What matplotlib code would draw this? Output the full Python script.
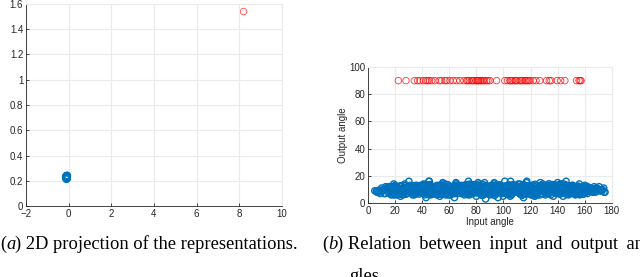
import matplotlib
matplotlib.use("Agg")
import matplotlib.pyplot as plt

# ---- data: panel (a) ----
a_blue_x = [-0.10, -0.09, -0.11, -0.10, -0.08, -0.12, -0.10, -0.09]
a_blue_y = [0.215, 0.222, 0.228, 0.234, 0.240, 0.231, 0.219, 0.237]
a_red_x = [8.2]
a_red_y = [1.54]
a_xticks = [-2, 0, 2, 4, 6, 8, 10]
a_yticks = [0, 0.2, 0.4, 0.6, 0.8, 1, 1.2, 1.4, 1.6]
a_yticklabels = ["0", "0.2", "0.4", "0.6", "0.8", "1", "1.2", "1.4", "1.6"]

# ---- data: panel (b) ----
b_red_x = [22.4, 28, 34.2, 36.6, 38.3, 40.8, 42.8, 44, 45.2, 47, 49.4, 52.6, 54.3,
           56.8, 58, 60.5, 62.9, 65.4, 67.8, 70.8, 72.8, 73.7, 74.7, 76.4, 77,
           78.1, 79.6, 80.5, 81.3, 82, 83, 84, 85, 86, 87.5, 88.6, 90, 94.9, 101,
           103, 104.7, 105.5, 106.6, 108.4, 109, 110.1, 112, 113, 114, 115.7,
           116.5, 117.4, 118.5, 119.4, 121.9, 124, 126.8, 131.8, 133.8, 135,
           139.6, 142.2, 145.3, 153.9, 155.8, 156.6, 157.3]
b_red_y = [90] * len(b_red_x)

b_blue_x = [
    5, 8, 10, 12, 14, 15, 17, 18, 20, 21, 23, 24, 26, 27, 29, 30, 32, 33, 35, 36,
    38, 39, 41, 42, 44, 45, 47, 48, 50, 51, 53, 54, 56, 57, 59, 60, 62, 63, 65, 66,
    68, 69, 71, 72, 74, 75, 77, 78, 80, 81, 83, 84, 86, 87, 89, 90, 92, 93, 95, 96,
    98, 99, 101, 102, 104, 105, 107, 108, 110, 111, 113, 114, 116, 117, 119, 120, 122, 123, 125, 126,
    128, 129, 131, 132, 134, 135, 137, 138, 140, 141, 143, 144, 146, 147, 149, 150, 152, 153, 155, 156,
    158, 159, 161, 162, 164, 165, 167, 168, 170, 172, 174, 175, 9, 13, 16, 19, 22, 25, 28, 31,
    34, 37, 40, 43, 46, 49, 52, 55, 58, 61, 64, 67, 70, 73, 76, 79, 82, 85, 88, 91,
    94, 97, 100, 103, 106, 109, 112, 115, 118, 121, 124, 127, 130, 133, 136, 139, 142, 145, 148, 151,
    154, 157, 160, 163, 166, 169, 171, 173, 11.5, 16.5, 19.5, 24.5, 28.5, 33.5, 37.5, 42.5, 46.5, 51.5, 55.5, 60.5,
    64.5, 69.5, 73.5, 78.5, 82.5, 87.5, 91.5, 96.5, 100.5, 105.5, 109.5, 114.5, 118.5, 123.5, 127.5, 132.5, 136.5, 141.5, 145.5, 150.5,
    154.5, 159.5, 163.5, 14.5, 18.5, 22.5, 26.5, 31.5, 35.5, 39.5, 44.5, 48.5, 53.5, 57.5, 62.5, 66.5, 71.5, 75.5, 80.5, 84.5,
    89.5, 93.5, 98.5, 102.5, 107.5, 111.5, 116.5, 120.5, 125.5, 129.5, 134.5, 138.5, 143.5, 147.5, 152.5, 156.5, 161.5, 20.5, 25.5, 30.5,
    34.5, 40.5, 45.5, 50.5, 54.5, 59.5, 65.5, 70.5, 74.5, 79.5, 85.5, 90.5, 94.5, 99.5, 104.5, 110.5, 115.5, 119.5, 124.5, 130.5,
    135.5, 140.5, 144.5, 149.5, 155.5, 160.5, 165.5, 17.5, 23.5, 29.5, 36.5, 41.5, 47.5, 52.5, 58.5, 63.5, 67.5, 72.5, 77.5, 83.5,
    86.5, 92.5, 97.5, 101.5, 106.5, 112.5, 117.5, 121.5, 126.5, 131.5, 137.5, 142.5, 146.5, 151.5, 157.5, 162.5, 27.2, 38.2, 49.2, 61.2,
    72.2, 84.2, 95.2, 103.2, 113.2, 122.2, 133.2, 144.2, 153.2, 21.8, 32.8, 43.8, 56.8, 67.8, 76.8, 88.8, 97.8, 108.8, 118.8, 128.8,
    139.8, 148.8, 158.8, 15.8, 26.8, 39.8, 48.8, 57.8, 68.8, 79.8, 90.8, 101.8, 110.8, 121.8, 131.8, 141.8, 150.8, 18.2, 45.2, 81.2,
    105.2, 127.2, 167.2, 170.6, 6.5, 174.2, 12.8, 42.8, 63.8, 86.8, 99.8, 114.8, 136.8, 156.2, 30.2, 55.2, 74.2, 93.2, 117.2, 146.2,
]
b_blue_y = [
    9, 8, 11, 7, 10, 12, 6, 9, 13, 8, 11, 5, 10, 14, 7, 12, 9, 6, 11, 13,
    8, 10, 14, 6, 12, 16, 9, 7, 11, 13, 5, 10, 8, 14, 12, 6, 9, 11, 15, 7,
    10, 13, 6, 12, 8, 14, 9, 11, 5, 13, 10, 7, 15, 8, 12, 6, 11, 14, 9, 4,
    12, 7, 16, 9, 11, 5, 13, 8, 10, 14, 6, 12, 9, 15, 7, 11, 13, 5, 10, 8,
    11, 14, 7, 10, 13, 6, 12, 9, 15, 8, 11, 5, 10, 13, 7, 12, 9, 6, 11, 14,
    8, 12, 10, 7, 11, 9, 12, 8, 10, 9, 11, 8, 7, 12, 10, 14, 6, 9, 13, 11,
    6, 10, 13, 8, 12, 11, 7, 14, 10, 6, 13, 9, 11, 7, 12, 10, 14, 6, 9, 12,
    7, 13, 10, 12, 6, 9, 14, 11, 8, 13, 10, 6, 12, 9, 11, 7, 14, 8, 10, 13,
    9, 7, 13, 10, 8, 11, 9, 10, 9, 8, 12, 10, 7, 9, 12, 8, 11, 10, 7, 9,
    11, 8, 10, 12, 7, 9, 13, 10, 8, 11, 12, 7, 9, 10, 13, 8, 11, 9, 12, 10,
    7, 10, 9, 11, 8, 10, 9, 12, 8, 10, 9, 11, 13, 8, 10, 12, 9, 11, 8, 10,
    12, 9, 8, 10, 11, 9, 8, 12, 10, 9, 11, 8, 12, 9, 10, 11, 9, 11, 9, 8,
    10, 12, 9, 8, 11, 10, 9, 12, 8, 10, 11, 9, 13, 8, 10, 9, 11, 12, 8, 10,
    9, 11, 10, 8, 12, 9, 10, 10, 8, 9, 11, 10, 8, 12, 9, 10, 11, 8, 9, 12,
    10, 8, 11, 9, 10, 12, 9, 8, 11, 10, 9, 12, 10, 8, 11, 9, 10, 9, 11, 8,
    9, 10, 12, 8, 11, 9, 10, 12, 9, 10, 8, 11, 9, 12, 10, 8, 11, 9, 10, 11,
    10, 9, 11, 10, 8, 12, 9, 11, 10, 8, 9, 12, 10, 11, 9, 10, 8, 10, 16, 15,
    16, 15, 10, 12, 8, 8, 7, 4, 4, 3, 5, 4, 5, 6, 16, 15, 16, 15, 16, 16,
]
b_blue_x2 = [
    15.2, 19.1, 23.7, 27.9, 31.1, 35.8, 39.3, 43.1, 47.7, 51.2, 55.9, 59.1, 63.3, 67.1, 71.8, 75.2, 79.9, 83.1, 87.3, 91.6,
    95.7, 99.1, 103.8, 107.2, 111.9, 115.1, 119.7, 123.2, 127.8, 131.2, 135.1, 139.4, 143.8, 147.1, 151.9, 155.2, 159.7, 163.1, 167.8, 11.1,
    13.6, 17.3, 21.2, 25.3, 29.7, 33.2, 37.1, 41.7, 45.9, 49.8, 53.1, 57.2, 61.9, 65.1, 69.2, 73.1, 77.9, 81.7, 85.2, 89.1,
    93.8, 97.2, 101.1, 105.9, 109.2, 113.7, 117.9, 121.1, 125.9, 129.1, 133.9, 137.2, 141.1, 145.9, 149.2, 153.8, 157.9, 161.1, 165.1, 7.2,
    16.1, 20.1, 24.1, 28.1, 32.1, 36.1, 40.1, 44.1, 48.1, 52.1, 56.1, 60.1, 64.1, 68.1, 72.1, 76.1, 80.1, 84.1, 88.1, 92.1,
    96.1, 100.1, 104.1, 108.1, 112.1, 116.1, 120.1, 124.1, 128.1, 132.1, 136.1, 140.1, 144.1, 148.1, 152.1, 156.1, 160.1, 164.1, 168.1, 171.9,
    18.9, 22.9, 26.9, 30.9, 34.9, 38.9, 42.9, 46.9, 50.9, 54.9, 58.9, 62.9, 66.9, 70.9, 74.9, 78.9, 82.9, 86.9, 90.9, 94.9,
    98.9, 102.9, 106.9, 110.9, 114.9, 118.9, 122.9, 126.9, 130.9, 134.9, 138.9, 142.9, 146.9, 150.9, 154.9, 158.9, 162.9, 14.1, 24.9, 35.1,
    45.1, 55.1, 65.1, 75.1, 85.1, 95.1, 105.1, 115.1, 125.1, 135.1, 145.1, 155.1, 20.7, 30.7, 40.7, 50.7, 60.7, 70.7, 80.7, 90.7,
    100.7, 110.7, 120.7, 130.7, 140.7, 150.7, 160.7, 26.3, 36.3, 46.3, 56.3, 66.3, 76.3, 86.3, 96.3, 106.3, 116.3, 126.3, 136.3, 146.3,
]
b_blue_y2 = [
    7.5, 10.5, 12.5, 6.5, 9.5, 11.5, 8.5, 13.5, 7.0, 10.0, 12.0, 6.0, 9.0, 11.0, 8.0, 13.0, 7.5, 10.5, 12.5, 6.5,
    9.5, 11.5, 8.5, 13.5, 7.0, 10.0, 12.0, 6.0, 9.0, 11.0, 8.0, 13.0, 7.5, 10.5, 12.5, 6.5, 9.5, 11.5, 8.5, 9.5,
    10.5, 8.0, 11.5, 6.5, 9.0, 12.5, 7.5, 10.0, 13.0, 8.5, 11.0, 6.0, 9.5, 12.0, 7.0, 10.5, 13.5, 8.0, 11.5, 6.5,
    9.0, 12.5, 7.5, 10.0, 13.0, 8.5, 11.0, 6.0, 9.5, 12.0, 7.0, 10.5, 13.5, 8.0, 11.5, 6.5, 9.0, 12.5, 10.0, 9.0,
    12.0, 6.0, 9.0, 11.5, 7.5, 10.0, 13.0, 8.0, 11.0, 6.5, 9.5, 12.5, 7.0, 10.5, 13.5, 8.5, 11.0, 6.0, 9.0, 12.0,
    7.5, 10.0, 13.0, 8.0, 11.5, 6.5, 9.5, 12.5, 7.0, 10.5, 13.5, 8.5, 11.0, 6.0, 9.0, 12.0, 7.5, 10.0, 11.0, 9.5,
    6.0, 8.5, 11.0, 13.0, 7.5, 9.5, 12.0, 6.5, 8.5, 11.5, 13.5, 7.0, 9.5, 12.5, 6.0, 8.0, 11.0, 13.0, 7.5, 10.0,
    12.5, 6.5, 8.5, 11.5, 13.0, 7.0, 9.5, 12.0, 6.0, 8.0, 11.0, 13.5, 7.5, 10.0, 12.5, 6.5, 9.0, 11.0, 12.5, 6.5,
    13.0, 7.0, 9.5, 12.0, 6.0, 8.5, 11.5, 13.5, 7.5, 10.0, 12.5, 6.5, 7.5, 9.5, 12.0, 6.0, 8.5, 11.0, 13.0, 7.0,
    9.5, 12.0, 6.5, 8.0, 11.5, 13.0, 7.5, 10.5, 12.5, 6.0, 8.5, 11.0, 13.5, 7.0, 9.0, 12.0, 6.5, 8.5, 11.5, 13.0,
]
b_blue_x3 = [
    16.7, 21.4, 26.1, 30.4, 35.2, 39.7, 44.6, 49.1, 53.7, 58.4, 62.2, 67.6, 72.5, 76.8, 81.4, 86.1, 90.3, 95.6, 99.4, 104.2,
    108.7, 113.4, 117.1, 122.7, 126.4, 131.6, 135.8, 140.6, 145.2, 149.7, 154.3, 158.4, 162.6, 166.4, 169.3, 172.8, 10.4, 12.3, 8.6, 6.2,
    18.3, 23.1, 27.6, 32.4, 37.8, 41.3, 46.2, 50.4, 55.6, 59.8, 64.3, 68.7, 73.4, 78.2, 83.6, 87.9, 92.8, 97.3, 102.4, 106.2,
    111.3, 115.8, 120.2, 124.8, 129.6, 133.4, 138.1, 142.4, 147.6, 152.4, 156.8, 161.3, 165.8, 15.4, 24.4, 33.7, 43.4, 53.4, 63.6, 73.8,
    17.9, 22.3, 27.1, 31.8, 36.9, 41.1, 45.8, 50.2, 54.2, 59.4, 63.9, 68.4, 72.7, 77.4, 81.9, 86.7, 91.2, 95.4, 100.3, 104.8,
    109.6, 114.2, 118.3, 123.6, 128.3, 132.7, 137.4, 141.9, 146.6, 151.1, 155.7, 160.2, 164.6, 83.8, 93.4, 103.6, 113.9, 123.4, 133.6, 143.4,
    19.8, 29.2, 38.7, 48.4, 57.6, 66.2, 75.7, 85.7, 94.3, 103.7, 112.6, 122.3, 131.4, 140.8, 150.2, 159.2, 25.6, 44.9, 64.8, 84.6,
    104.6, 124.6, 144.6, 34.2, 54.6, 74.4, 94.6, 114.4, 134.4, 154.2, 21.1, 31.3, 41.4, 51.6, 61.6, 71.3, 81.6, 91.3, 101.4, 111.4,
    121.3, 131.3, 141.3, 151.3, 161.3, 16.9, 28.9, 40.2, 52.9, 62.4, 73.2, 82.2, 92.2, 102.2, 112.2, 122.9, 132.2, 142.7, 152.8, 163.7,
    23.9, 33.9, 43.9, 53.9, 63.1, 73.6, 83.3, 93.6, 103.3, 113.6, 123.8, 133.1, 143.6, 153.6, 18.6, 38.6, 58.6, 78.6, 98.6, 118.6,
]
b_blue_y3 = [
    8.2, 11.7, 6.8, 10.3, 12.9, 7.4, 9.8, 12.2, 6.3, 10.9, 8.7, 11.3, 13.2, 7.9, 10.1, 6.7, 12.6, 9.2, 11.8, 7.3,
    10.7, 12.8, 8.3, 6.9, 11.2, 9.7, 13.1, 7.6, 10.4, 12.3, 8.8, 6.4, 11.6, 9.4, 10.2, 8.9, 9.3, 10.8, 9.6, 8.7,
    12.1, 7.1, 9.9, 11.4, 6.6, 13.3, 8.4, 10.6, 12.7, 7.7, 9.1, 11.9, 6.2, 10.2, 12.4, 8.1, 9.6, 13.4, 7.2, 11.1,
    8.6, 12.5, 6.1, 10.8, 9.3, 11.7, 7.8, 12.9, 10.3, 6.8, 9.7, 11.4, 8.2, 11.2, 7.3, 12.8, 6.6, 13.1, 7.9, 12.3,
    6.4, 10.2, 12.8, 8.9, 11.6, 7.1, 13.6, 9.4, 11.1, 7.6, 12.4, 8.3, 10.7, 6.9, 12.1, 9.9, 7.4, 11.8, 8.1, 13.2,
    10.9, 6.7, 12.6, 8.4, 11.3, 7.2, 13.4, 9.8, 6.3, 12.2, 8.7, 10.4, 9.1, 5.8, 5.5, 6.1, 5.7, 13.8, 14.2, 13.9,
    11.4, 8.6, 12.9, 7.1, 10.6, 13.1, 8.2, 11.7, 6.7, 12.5, 9.6, 7.9, 11.2, 12.7, 8.8, 10.4, 5.9, 6.2, 14.1, 13.7,
    6.3, 5.6, 13.9, 12.4, 7.3, 10.9, 12.2, 6.8, 9.1, 11.6, 10.3, 8.4, 12.8, 9.3, 7.6, 11.9, 8.1, 10.7, 12.6, 7.4,
    9.2, 12.1, 6.6, 10.8, 9.5, 8.7, 11.3, 7.2, 12.9, 9.8, 6.4, 11.6, 8.3, 12.3, 7.7, 10.1, 13.2, 6.9, 11.4, 8.6,
    12.6, 7.8, 10.5, 6.5, 12.1, 8.9, 11.7, 7.2, 13.3, 9.6, 6.7, 12.4, 8.3, 10.8, 10.4, 9.2, 7.6, 11.3, 8.4, 12.7,
]
b_xticks = [0, 20, 40, 60, 80, 100, 120, 140, 160, 180]
b_yticks = [0, 20, 40, 60, 80, 100]

caption_a = "2D projection of the representations."
caption_b = "Relation \u2009between \u2009input \u2009and \u2009output \u2009an-"
caption_b2 = "gles."

BLUE = "#0072BD"
RED = "#FF0000"
TXT = "#262626"
GRID = "#EBEBEB"

plt.rcParams["font.family"] = ["Liberation Sans", "DejaVu Sans"]

fig = plt.figure(figsize=(6.4, 2.77), dpi=100)


def style(ax):
    ax.grid(True, color=GRID, linewidth=0.8)
    ax.set_axisbelow(True)
    for s in ("top", "right"):
        ax.spines[s].set_color(GRID)
        ax.spines[s].set_linewidth(0.8)
    for s in ("left", "bottom"):
        ax.spines[s].set_color(TXT)
        ax.spines[s].set_linewidth(0.6)
    ax.tick_params(direction="in", length=2, width=0.6, colors=TXT,
                   labelsize=7, pad=2, top=False, right=False)


# Panel (a)
ax1 = fig.add_axes([0.0406, 0.2563, 0.4, 0.7293])
ax1.scatter(a_blue_x, a_blue_y, s=22, facecolors="none", edgecolors=BLUE, linewidths=1.4)
ax1.scatter(a_red_x, a_red_y, s=22, facecolors="none", edgecolors=RED, linewidths=0.6, alpha=0.7)
ax1.set_xlim(-2, 10)
ax1.set_ylim(0, 1.6)
ax1.set_xticks(a_xticks)
ax1.set_yticks(a_yticks)
ax1.set_yticklabels(a_yticklabels)
style(ax1)

# Panel (b)
ax2 = fig.add_axes([0.575, 0.267, 0.381, 0.491])
for bx, by in ((b_blue_x, b_blue_y), (b_blue_x2, b_blue_y2), (b_blue_x3, b_blue_y3)):
    ax2.scatter(bx, by, s=20, facecolors="none", edgecolors=BLUE, linewidths=1.0)
ax2.scatter(b_red_x, b_red_y, s=22, facecolors="none", edgecolors=RED, linewidths=0.6, alpha=0.8)
ax2.set_xlim(0, 180)
ax2.set_ylim(0, 100)
ax2.set_xticks(b_xticks)
ax2.set_yticks(b_yticks)
ax2.set_xlabel("Input angle", fontsize=7, color=TXT, labelpad=1)
ax2.set_ylabel("Output angle", fontsize=7, color=TXT, labelpad=1)
style(ax2)

# Captions
serif = ["Liberation Serif", "DejaVu Serif"]
CAP = 13.3


def caption(x, y, letter, text):
    r = fig.canvas.get_renderer()
    t1 = fig.text(x, y, "(", family=serif, fontsize=CAP, va="baseline", ha="left")
    x2 = t1.get_window_extent(r).x1 / fig.bbox.width
    t2 = fig.text(x2, y, letter, family=serif, style="italic", fontsize=CAP,
                  va="baseline", ha="left")
    x3 = t2.get_window_extent(r).x1 / fig.bbox.width
    fig.text(x3, y, ") " + text, family=serif, fontsize=CAP, va="baseline", ha="left")


caption(0.0, 1 - 249 / 277, "a", caption_a)
caption(322 / 640, 1 - 249 / 277, "b", caption_b)
fig.text(349 / 640, 1 - 281 / 277, caption_b2, family=serif, fontsize=CAP,
         va="baseline", ha="left")

fig.savefig("out.png", dpi=100)
